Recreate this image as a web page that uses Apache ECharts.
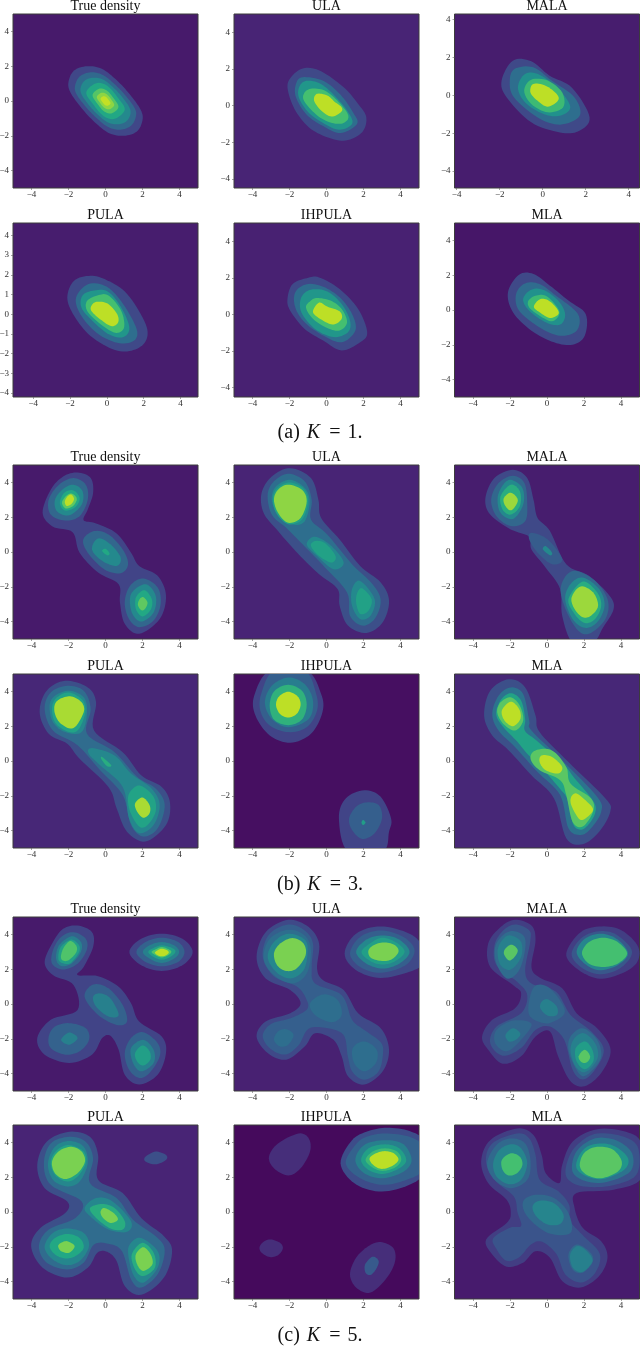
<!DOCTYPE html>
<html><head><meta charset="utf-8">
<style>html,body{margin:0;padding:0;background:#fff}#c{width:640px;height:1347px}</style>
<script src="https://cdn.jsdelivr.net/npm/echarts@6/dist/echarts.min.js"></script>
</head><body><div id="c"></div>
<script>
// Panel titles, captions, tick labels
const TITLES = ['True density','ULA','MALA','PULA','IHPULA','MLA'];
const CAPTIONS = [['(a) ','K','1.'],['(b) ','K','3.'],['(c) ','K','5.']];
const TICKS_EVEN = [-4,-2,0,2,4];
const TICKS_UNIT = [-4,-3,-2,-1,0,1,2,3,4];
// Axis ranges [xmin,xmax,ymin,ymax] per panel
const AXIS_RANGES = [
 [-5,5,-5,5],[-5,5,-4.5,5],[-4.1,4.5,-4.9,4.3],[-5.1,4.95,-4.2,4.63],[-5,5,-4.53,5],[-5,5,-5,5],
 [-5,5,-5,5],[-5,5,-5,5],[-5,5,-5,5],[-5,5,-5,5],[-5,5,-5,5],[-5,5,-5,5],
 [-5,5,-5,5],[-5,5,-5,5],[-5,5,-5,5],[-5,5,-5,5],[-5,5,-5,5],[-5,5,-5,5]];
// Lowest band of each panel, on the 0..1 colour scale
const BG_LEVELS = [.07,.1,.08,.08,.09,.06, .07,.1,.08,.11,.04,.11, .07,.09,.08,.1,.025,.075];

// Filled contour bands: [colour level, outline x,y pairs in data units]
const K1_TRUE = [
 [.21,[-1,2,-.2,1.85,.6,1.2,1.3,.4,1.9,-.5,2,-1.1,1.7,-1.75,1,-2,.2,-1.85,-.6,-1.2,-1.3,-.4,-1.9,.5,-2,1.1,-1.7,1.75]],
 [.34,[-.8,1.65,-.15,1.5,.5,.96,1.08,.32,1.58,-.42,1.64,-.9,1.38,-1.42,.8,-1.65,.15,-1.5,-.5,-.96,-1.08,-.32,-1.58,.42,-1.64,.9,-1.38,1.42]],
 [.47,[-.66,1.34,-.14,1.24,.4,.8,.87,.27,1.27,-.33,1.35,-.73,1.13,-1.17,.66,-1.34,.14,-1.24,-.4,-.8,-.87,-.27,-1.27,.33,-1.35,.73,-1.13,1.17]],
 [.6,[-.5,1.02,.1,.87,.66,.2,1.04,-.5,.5,-1.02,-.1,-.87,-.66,-.2,-1.04,.5]],
 [.73,[-.35,.7,.07,.6,.45,.14,.7,-.35,.35,-.7,-.07,-.6,-.45,-.14,-.7,.35]],
 [.83,[-.23,.47,.05,.4,.3,.1,.47,-.23,.23,-.47,-.05,-.4,-.3,-.1,-.47,.23]],
 [.91,[-.13,.27,.03,.23,.17,.06,.27,-.13,.13,-.27,-.03,-.23,-.17,-.06,-.27,.13]]];
const K1_ULA = [
 [.22,[-1.18,2.05,-.29,1.87,.93,1,1.71,.09,2.15,-.64,1.93,-1.45,1.04,-1.91,.04,-1.73,-.96,-1.18,-1.73,-.18,-2.11,1,-1.84,1.64]],
 [.36,[-1.29,1.55,-.18,1.35,.75,.6,1.42,-.35,1.65,-1,.75,-1.5,-.18,-1.12,-1.07,-.5,-1.65,.45,-1.65,1.18]],
 [.52,[-1.1,1.35,-.3,1.18,.55,.42,1.2,-.4,1.38,-1,.7,-1.32,-.1,-1,-.95,-.4,-1.48,.4,-1.48,1]],
 [.7,[-.85,.92,-.1,.82,.65,.2,1.18,-.55,.92,-.95,.3,-.95,-.45,-.58,-1.18,.2,-1.22,.65]],
 [.9,[-.52,.64,.04,.55,.45,.2,.82,-.1,.78,-.36,.27,-.6,-.29,-.27,-.67,.27]]];
const K1_MALA = [
 [.22,[-1.39,1.83,-.53,1.8,.32,1.04,1.37,.39,2.18,-1.16,1.66,-1.9,.8,-1.96,-.53,-1.43,-1.68,-.1,-1.91,.78]],
 [.36,[-1.3,1.4,-.44,1.48,.42,.78,1.47,-.1,1.72,-1.08,.8,-1.55,-.25,-1.16,-1.34,-.1,-1.53,.78]],
 [.5,[-.82,1.13,-.15,1.09,.8,.25,1.28,-.63,.8,-1.08,.04,-.99,-.82,-.37,-1.15,.42]],
 [.68,[-.53,.83,.23,.78,.9,.16,.95,-.63,.23,-.9,-.53,-.46,-.86,.25]],
 [.9,[-.44,.6,.13,.51,.65,.07,.71,-.28,.23,-.6,-.25,-.28,-.57,.16]]];
const K1_PULA = [
 [.22,[-.89,1.95,0,1.73,1.11,1.02,2.11,-.51,2.11,-1.36,1.44,-1.82,.44,-1.82,-.89,-1.1,-1.78,-.08,-2.15,.85,-1.78,1.7]],
 [.36,[-1,1.53,0,1.39,.89,.51,1.62,-.77,1.44,-1.36,.56,-1.45,-.56,-.94,-1.44,0,-1.67,.85]],
 [.52,[-.78,1.19,.04,1.16,.78,.34,1.22,-.68,.89,-1.16,.11,-1.02,-.78,-.34,-1.38,.34,-1.33,.94]],
 [.7,[-.44,.97,.11,.94,.78,.17,.93,-.68,.44,-.94,-.44,-.43,-1.07,.17,-1.07,.68]],
 [.9,[-.56,.63,.04,.54,.56,0,.6,-.43,.22,-.6,-.44,-.2,-.84,.17,-.84,.43]]];
const K1_IHPULA = [
 [.22,[-1.07,1.98,-.4,2.02,.71,1.38,1.71,.29,2.2,-.98,1.82,-1.53,.82,-1.98,-.18,-1.44,-1.18,-.8,-1.96,.2,-2.11,.84,-1.84,1.65]],
 [.36,[-1.07,1.65,-.18,1.51,.71,.93,1.38,.02,1.56,-.89,.82,-1.53,-.18,-1.16,-1.18,-.44,-1.69,.38,-1.69,1.2]],
 [.52,[-.84,1.35,.04,1.25,.82,.56,1.27,-.35,1.16,-.98,.38,-1.25,-.62,-.8,-1.36,.11,-1.36,.93]],
 [.7,[-.51,.89,.22,.75,.82,.29,1.11,-.44,.71,-.89,.04,-.75,-.73,-.25,-1.11,.38,-.84,.75]],
 [.9,[-.4,.64,.04,.42,.71,.16,.82,-.25,.38,-.56,-.18,-.35,-.73,.11]]];
const K1_MLA = [
 [.22,[-1.51,2.03,-.73,2.07,.16,1.4,1.16,.54,2.09,-.23,2.04,-1.48,1.38,-1.99,.38,-1.86,-.84,-1.19,-1.84,-.13,-2.11,1.02]],
 [.35,[-1.18,1.53,-.4,1.49,.49,.82,1.67,-.23,1.6,-1.19,.71,-1.48,-.4,-1,-1.51,-.04,-1.67,.92]],
 [.5,[-.84,1.17,-.18,1.15,.6,.54,.98,-.23,.71,-.84,-.07,-.71,-.96,-.04,-1.29,.63]],
 [.68,[-.62,.82,-.07,.82,.49,.25,.67,-.23,.27,-.65,-.4,-.33,-.96,.15,-1,.54]],
 [.9,[-.4,.61,.04,.57,.49,.15,.62,-.23,.16,-.46,-.4,-.13,-.71,.19]]];

const K3_TRUE = [
 [.2,[-1.51,4.57,-.8,4.25,-.67,3.39,-.96,2.44,-1.18,1.83,-.51,1.64,.6,1.07,1.38,-.04,1.82,-.8,2.82,-1.37,3.27,-2.51,2.93,-3.85,1.82,-4.7,1.04,-4.13,.78,-2.9,.71,-1.85,-.4,-1.18,-1.4,-.04,-1.78,1.14,-2.84,1.45,-3.4,2.25,-2.96,3.58,-2.29,4.34]],
 [.33,[-1.73,4.25,-1.07,3.87,-.96,3.01,-1.4,2.06,-2.18,1.81,-2.96,2.15,-3.07,3.01,-2.51,3.87]],
 [.33,[-.62,1.2,.16,1.01,.93,.15,1.22,-.7,.82,-1.22,-.07,-.99,-.96,-.04,-1.2,.72]],
 [.33,[2.04,-1.52,2.82,-2.04,2.98,-2.99,2.6,-3.94,1.82,-4.32,1.27,-3.85,1.04,-2.9,1.33,-1.94]],
 [.47,[-1.73,3.87,-1.24,3.49,-1.29,2.72,-1.96,2.11,-2.62,2.34,-2.73,3.01,-2.29,3.62]],
 [.47,[-.4,.78,.27,.44,.82,-.32,.6,-.8,-.18,-.51,-.73,.15]],
 [.47,[2.16,-1.85,2.71,-2.51,2.6,-3.47,1.93,-4,1.42,-3.47,1.38,-2.42]],
 [.6,[-1.73,3.54,-1.4,3.1,-1.62,2.59,-2.18,2.38,-2.47,2.82,-2.22,3.41]],
 [.6,[0,.19,.22,-.08,.09,-.19,-.18,.06]],
 [.6,[2.1,-2.2,2.5,-2.7,2.45,-3.3,2,-3.7,1.65,-3.3,1.65,-2.6]],
 [.75,[-1.8,3.35,-1.55,3.05,-1.75,2.65,-2.15,2.5,-2.35,2.85,-2.1,3.25]],
 [.75,[2.05,-2.6,2.27,-2.9,2.15,-3.25,1.95,-3.35,1.75,-3.05,1.85,-2.7]],
 [.9,[-1.85,3.3,-1.7,3.05,-1.85,2.75,-2.1,2.65,-2.2,2.9,-2.05,3.2]]];
const K3_ULA = [
 [.24,[-1.96,4.82,-.84,4.25,-.44,3.01,-.29,1.96,.71,.72,1.82,-.8,2.93,-1.75,3.38,-2.8,3.04,-4.04,2.16,-4.65,1.16,-4.23,.71,-3.09,.6,-2.13,-.4,-1.28,-1.51,-.13,-2.62,1.2,-3.4,2.25,-3.51,3.39,-2.96,4.34]],
 [.36,[-2.07,4.5,-1.18,4.06,-.8,3.01,-.84,1.87,.04,1.01,1.38,-.7,2.49,-1.85,2.93,-2.8,2.6,-3.85,1.93,-4.23,1.27,-3.66,1.11,-2.33,-.07,-.9,-1.29,.44,-2.18,1.39,-2.96,2.15,-3.18,3.3,-2.84,4.06]],
 [.47,[-1.96,4.15,-1.18,3.68,-.91,2.91,-1.18,1.77,-1.84,1.58,-2.62,2.15,-2.96,3.01,-2.73,3.77]],
 [.47,[-.62,.88,.27,.34,.93,-.61,.38,-.99,-.51,-.23,-1.07,.44]],
 [.47,[1.82,-1.66,2.6,-2.71,2.38,-3.66,1.82,-3.85,1.38,-3.09,1.38,-2.13]],
 [.57,[-2,4,-1.25,3.65,-1,2.91,-1.32,1.87,-2.07,1.6,-2.7,2.2,-2.9,3.01,-2.68,3.65]],
 [.57,[-.62,.63,-.07,.5,.49,-.23,.27,-.61,-.4,-.23,-.84,.34]],
 [.57,[1.93,-2.09,2.44,-2.71,2.27,-3.37,1.82,-3.56,1.6,-2.9,1.67,-2.33]],
 [.83,[-2.07,3.87,-1.33,3.58,-1.07,2.91,-1.4,1.96,-2.07,1.68,-2.62,2.25,-2.84,3.01,-2.62,3.58]]];
const K3_MALA = [
 [.22,[-1.84,4.72,-1.07,4.25,-.73,3.01,-.51,1.96,.16,1.2,1.04,-.7,2.27,-1.37,3.38,-2.51,3.6,-3.28,3.04,-4.32,2.49,-5.2,1.38,-5.2,.82,-3.66,.71,-2.13,-.07,-.9,-.84,.15,-.96,.88,-1.96,1.3,-3.07,2.15,-3.33,3.1,-2.84,4.25]],
 [.33,[-1.84,4.38,-1.22,3.96,-1.07,2.82,-1.18,1.77,-1.96,1.49,-2.73,2.06,-3.02,3.01,-2.62,3.96]],
 [.29,[-.84,1.1,.04,.72,.82,-.42,.27,-.7,-.51,-.04,-.96,.72]],
 [.33,[1.38,-1.09,2.49,-1.56,3.27,-2.7,3.16,-3.85,2.27,-4.7,1.6,-4.42,.93,-3.09,.76,-1.94]],
 [.47,[-1.96,4.15,-1.33,3.68,-1.29,2.72,-1.84,1.9,-2.51,2.25,-2.67,3.1,-2.4,3.82]],
 [.47,[-.07,.34,.27,-.04,.16,-.19,-.22,.15]],
 [.47,[1.93,-1.47,2.82,-2.13,3.11,-3.09,2.71,-4.04,2.04,-4.36,1.38,-3.85,.98,-2.7,1.27,-1.85]],
 [.62,[-1.96,3.87,-1.47,3.49,-1.47,2.63,-1.96,2.15,-2.4,2.44,-2.51,3.2]],
 [.62,[1.93,-1.7,2.71,-2.32,2.93,-3.09,2.6,-3.85,2.04,-4.08,1.49,-3.56,1.16,-2.7]],
 [.85,[-1.96,3.41,-1.58,3.01,-1.78,2.53,-2.02,2.4,-2.29,2.72,-2.33,3.1]],
 [.85,[1.82,-1.98,2.49,-2.32,2.76,-3.09,2.38,-3.66,1.93,-3.75,1.49,-3.28,1.33,-2.61]]];
const K3_PULA = [
 [.24,[-2.18,4.61,-.96,4.23,-.51,3.37,-.62,1.75,.93,.51,1.93,-.82,3.04,-1.49,3.49,-2.44,3.27,-3.68,2.16,-4.63,1.16,-4.06,.6,-2.72,.16,-1.49,-1.4,.13,-2.07,.99,-3.07,1.56,-3.56,2.8,-3.18,4.04]],
 [.35,[-2.07,4.32,-1.18,4.04,-.8,2.99,-1,1.56,.49,.51,1.71,-.91,2.71,-1.58,3.2,-2.53,2.82,-3.87,2.04,-4.34,1.38,-3.68,.93,-1.96,-.29,-.53,-1.51,.9,-2.84,1.75,-3.29,2.99,-2.96,3.94]],
 [.46,[-1.96,4.04,-1.18,3.66,-1,2.8,-1.29,1.66,-2.18,1.66,-2.84,2.23,-3.02,3.18,-2.73,3.75]],
 [.46,[-.73,.74,.49,.32,1.38,-.72,2.49,-1.58,2.93,-2.53,2.6,-3.68,1.82,-4.15,1.27,-3.3,.93,-1.49,-.29,-.25,-.91,.42]],
 [.58,[-1.96,3.94,-1.22,3.47,-1.11,2.7,-1.51,1.75,-2.07,1.7,-2.73,2.23,-2.89,3.09,-2.62,3.66]],
 [.62,[-.18,.23,.31,-.25,.09,-.3,-.22,.1]],
 [.58,[1.93,-1.43,2.6,-2.06,2.71,-2.91,2.27,-3.68,1.82,-3.77,1.33,-2.91,1.22,-2.06,1.49,-1.58]],
 [.87,[-1.84,3.71,-1.29,3.37,-1.18,2.8,-1.73,1.89,-2.4,2.13,-2.73,2.7,-2.73,3.28,-2.4,3.6]],
 [.87,[2,-2.1,2.38,-2.53,2.38,-3.01,2.04,-3.26,1.71,-2.91,1.6,-2.44]]];
const K3_IHPULA = [
 [.2,[-3.07,5.2,-1.07,5.2,-.29,3.85,-.22,2.8,-.84,1.56,-1.96,1.05,-3.07,1.47,-3.84,2.61,-3.91,3.75]],
 [.2,[2.04,-1.68,2.93,-2.06,3.49,-3.3,3.38,-4.06,3.04,-5.2,1.16,-5.2,.67,-3.3,1.04,-2.15]],
 [.3,[-2.84,5.2,-1.18,5.2,-.58,3.94,-.51,2.9,-1.07,1.94,-2.07,1.66,-3.07,2.04,-3.58,2.9,-3.51,3.94]],
 [.3,[2.16,-2.38,2.82,-2.53,3,-3.3,2.6,-4.15,1.93,-4.48,1.38,-3.96,1.22,-3.3,1.6,-2.63]],
 [.42,[-2.07,4.8,-1.18,4.42,-.73,3.47,-.96,2.42,-2.07,1.94,-2.96,2.42,-3.33,3.37,-2.96,4.32]],
 [.55,[1.98,-3.39,2.11,-3.54,1.98,-3.68,1.89,-3.54]],
 [.64,[-2.07,4.38,-1.33,4.04,-1.07,3.24,-1.33,2.38,-2.07,2.06,-2.84,2.38,-3.07,3.24,-2.8,4.04]],
 [.9,[-2.07,3.98,-1.56,3.71,-1.4,3.22,-1.62,2.7,-2.07,2.5,-2.51,2.7,-2.73,3.22,-2.56,3.71]]];
const K3_MLA = [
 [.24,[-2.07,4.7,-1.18,4.23,-.62,2.61,-.4,1.66,1.16,-.06,3.16,-2.15,3.42,-2.91,2.82,-4.06,1.93,-4.78,1.04,-4.44,.38,-2.15,-.84,-.82,-2.07,.61,-2.96,1.47,-3.4,2.61,-3.07,4.04]],
 [.38,[-1.96,4.23,-1.29,3.85,-.96,2.32,-.84,1.75,.82,.04,2.71,-2.06,2.93,-2.91,2.38,-3.87,1.82,-4.25,1.16,-3.87,.71,-1.96,-.51,-.63,-1.73,.8,-2.62,1.75,-2.96,2.7,-2.62,3.75]],
 [.58,[-1.96,3.9,-1.4,3.47,-1.18,2.4,-1.2,1.75,-.6,1.2,.82,-.1,1.5,-1,2.5,-2.3,2.6,-3,2.2,-3.7,1.8,-3.95,1.4,-3.6,1.1,-2.2,.7,-1.6,-.2,-.5,-1.07,.42,-1.6,1.1,-2.4,2,-2.75,2.7,-2.5,3.5]],
 [.74,[-1.96,3.66,-1.47,3.18,-1.29,2.32,-1.73,1.75,-2.36,2.13,-2.69,2.8,-2.51,3.37]],
 [.74,[-.62,.61,.27,.61,1.04,-.34,1.27,-1.3,2.38,-2.15,2.49,-2.91,1.93,-3.77,1.38,-3.49,1.04,-1.96,.71,-1.1,-.4,-.53,-.89,.13]],
 [.9,[-1.96,3.41,-1.51,2.99,-1.44,2.42,-1.84,2,-2.29,2.32,-2.44,2.9]],
 [.9,[-.29,.32,.27,.23,.82,-.34,.6,-.72,-.07,-.53,-.4,-.06]],
 [.9,[1.6,-1.87,2.16,-2.34,2.49,-2.82,2.04,-3.33,1.71,-3.3,1.31,-2.53,1.31,-2.06]]];

const K5_TRUE = [
 [.2,[-1.51,4.51,-.73,4.13,-.67,3.28,-1.18,2.13,-1.51,1.66,-.4,1.6,.71,.99,1.38,.04,1.82,-1.01,3.04,-1.87,3.27,-2.82,2.82,-4.06,1.82,-4.63,1.04,-4.06,.71,-2.63,.27,-1.83,-.18,-1.96,-.73,-2.91,-1.96,-3.39,-3.29,-2.91,-3.69,-1.96,-2.96,-.91,-1.51,-.34,-1.73,1.09,-2.84,1.66,-3.29,2.42,-2.84,3.56,-2.29,4.32]],
 [.2,[3.04,4.04,4.16,3.75,4.71,2.99,4.16,2.23,3.04,1.9,1.93,2.23,1.29,2.99,1.93,3.75]],
 [.31,[-1.73,4.13,-1.07,3.75,-1.02,3.09,-1.51,2.32,-2.29,1.98,-2.89,2.32,-2.84,3.09,-2.4,3.85]],
 [.31,[-.67,1.12,.16,.9,.93,-.06,1.16,-1.01,.6,-1.2,-.4,-.63,-1.13,.42]],
 [.31,[-1.96,-1.1,-1.07,-1.39,-.89,-2.06,-1.4,-2.72,-2.18,-2.91,-2.96,-2.53,-3.07,-1.87,-2.73,-1.3]],
 [.31,[2.04,-1.62,2.82,-2.25,2.93,-3.01,2.38,-3.96,1.82,-4.25,1.27,-3.77,1.04,-2.82,1.38,-1.96]],
 [.31,[3.04,3.81,3.93,3.56,4.27,2.99,3.93,2.42,3.04,2.17,2.16,2.42,1.67,2.99,2.16,3.56]],
 [.43,[-1.84,3.89,-1.33,3.56,-1.33,2.99,-1.84,2.32,-2.4,2.19,-2.67,2.61,-2.51,3.37]],
 [.43,[-.29,.61,.27,.32,.71,-.63,.16,-.72,-.51,-.15,-.67,.42]],
 [.43,[-1.96,-1.64,-1.51,-1.96,-1.96,-2.34,-2.4,-2.06]],
 [.43,[2.04,-2.06,2.6,-2.63,2.6,-3.39,1.93,-3.87,1.49,-3.39,1.38,-2.53]],
 [.43,[3.04,3.56,3.71,3.37,3.98,2.99,3.71,2.61,3.04,2.36,2.38,2.61,2.02,2.99,2.38,3.37]],
 [.56,[2,-2.38,2.38,-2.72,2.42,-3.2,2.04,-3.54,1.71,-3.3,1.6,-2.82]],
 [.56,[-1.85,3.7,-1.42,3.35,-1.47,2.9,-1.95,2.32,-2.45,2.42,-2.55,2.75,-2.4,3.3]],
 [.56,[3.04,3.37,3.6,3.22,3.78,2.99,3.49,2.7,3.04,2.55,2.6,2.7,2.31,2.99,2.6,3.22]],
 [.72,[-1.91,3.62,-1.56,3.31,-1.62,2.9,-2.07,2.48,-2.4,2.61,-2.29,3.18]],
 [.72,[3.04,3.28,3.42,3.14,3.56,2.99,3.38,2.8,3.04,2.67,2.71,2.8,2.49,2.99,2.71,3.14]],
 [.9,[3.04,3.18,3.33,3.09,3.42,2.95,3.27,2.8,3.04,2.74,2.82,2.8,2.67,2.95,2.82,3.09]]];
const K5_ULA = [
 [.22,[-2.07,4.84,-.96,4.42,-.4,3.47,-.51,2.04,-.18,1.37,.93,.8,1.71,-.53,2.93,-1.39,3.38,-2.63,3.04,-3.87,2.04,-4.63,1.16,-4.15,.82,-3.01,.38,-2.06,-.62,-1.68,-1.18,-2.44,-2.18,-3.2,-3.18,-2.82,-3.78,-1.87,-3.29,-1.01,-1.96,-.53,-1.4,.04,-1.96,.8,-3.29,1.47,-3.78,2.7,-3.29,4.13]],
 [.22,[2.93,4.46,4.49,4.04,5.2,3.28,5.2,2.32,4.49,1.85,2.93,1.5,1.6,1.94,.98,2.9,1.6,4.04]],
 [.3,[-2.07,4.57,-1.18,4.23,-.73,3.47,-.8,2.13,-.62,1.18,.82,.51,1.38,-.91,2.04,-1.49,2.93,-2.2,3.05,-2.9,2.8,-3.9,2.04,-4.35,1.4,-3.9,1.15,-3,.9,-1.75,-.2,-1.35,-1,-1.45,-1.5,-2.35,-2.2,-2.9,-3,-2.6,-3.45,-1.85,-3,-1.15,-1.9,-.8,-1.05,-.3,-1.1,.3,-1.6,1,-2.85,1.6,-3.45,2.75,-3.1,4]],
 [.3,[2.93,4.23,4.16,3.85,4.76,3.09,4.27,2.23,2.93,1.79,1.82,2.13,1.27,2.9,1.82,3.85]],
 [.36,[-2.07,4.27,-1.18,3.94,-.84,3.09,-1.07,1.75,-1.84,1.18,-2.84,1.66,-3.4,2.61,-3.07,3.75]],
 [.36,[-.18,.55,.6,.23,.82,-.63,.27,-1.05,-.62,-.63,-.89,.04]],
 [.36,[-2.18,-1.45,-1.78,-1.77,-2.07,-2.34,-2.51,-2.44,-2.84,-2.06,-2.62,-1.58]],
 [.36,[2.04,-2.15,2.71,-2.63,2.67,-3.39,2.04,-3.87,1.49,-3.39,1.42,-2.53]],
 [.46,[3.04,3.94,3.93,3.7,4.49,2.99,3.93,2.32,3.04,2.04,2.16,2.32,1.6,2.99,2.16,3.7]],
 [.46,[-2.07,4.04,-1.18,3.7,-1.02,2.99,-1.24,1.94,-1.96,1.47,-2.73,1.85,-3.18,2.7,-2.84,3.56]],
 [.56,[3.04,3.81,3.82,3.5,4.22,2.99,3.71,2.46,3.04,2.27,2.38,2.46,1.89,2.99,2.38,3.5]],
 [.8,[-1.84,3.79,-1.24,3.47,-1.13,2.8,-1.62,2.04,-2.18,1.9,-2.67,2.23,-2.84,2.9,-2.51,3.47]],
 [.8,[3.16,3.54,3.71,3.37,3.89,2.99,3.49,2.55,2.93,2.48,2.38,2.67,2.27,3.09,2.6,3.41]]];
const K5_MALA = [
 [.18,[-1.73,4.84,-.84,4.51,-.62,3.66,-.84,2.13,-.4,1.52,.82,.9,1.6,-.53,2.71,-1.39,3.44,-2.63,2.93,-3.96,2.04,-4.72,1.27,-4.44,.6,-3.01,.16,-1.58,-.62,-1.87,-1.4,-3.01,-2.4,-3.43,-3.18,-2.63,-3.51,-1.87,-2.96,-.91,-1.73,-.25,-1.4,.61,-1.84,1.09,-3.07,2.13,-3.18,3.47,-2.51,4.42]],
 [.18,[2.93,4.46,4.04,4.23,4.93,3.28,4.82,2.32,3.82,1.66,2.71,1.47,1.6,2.04,1.04,2.9,1.82,4.13]],
 [.27,[-1.73,4.57,-.96,4.23,-.91,3.56,-1.18,1.94,-.84,1.18,.49,.7,1.27,-.63,2.4,-1.58,3.07,-2.63,2.6,-3.77,1.93,-4.34,1.38,-3.77,.93,-2.06,.16,-1.3,-.62,-1.49,-1.4,-2.53,-2.4,-2.97,-3.07,-2.25,-2.73,-1.3,-1.4,-.53,-1.07,.51,-1.62,1.28,-2.73,2.23,-2.84,3.37,-2.4,4.19]],
 [.27,[2.93,4.19,3.82,3.94,4.6,2.99,3.93,2.04,2.82,1.71,1.82,2.13,1.33,2.9,1.93,3.85]],
 [.35,[-1.84,4.19,-1.22,3.85,-1.22,2.9,-1.56,1.85,-2.18,1.47,-2.73,2.32,-2.8,3.28,-2.4,3.94]],
 [.33,[-.62,1.05,.16,.9,.97,-.4,.23,-1.07,-.44,-1.02,-.96,-.63,-.96,.23]],
 [.33,[-1.84,-.95,-.84,-1.14,-1.4,-2.06,-2.18,-2.72,-2.8,-2.25,-2.73,-1.49]],
 [.35,[1.93,-1.39,2.71,-2.06,2.93,-3.01,2.49,-3.77,1.93,-4.15,1.49,-3.58,1.16,-2.63,1.27,-1.87]],
 [.45,[2.93,4.04,3.82,3.7,4.38,2.9,3.82,2.23,2.82,1.94,2.04,2.32,1.6,2.99,2.04,3.75]],
 [.43,[-1.96,3.94,-1.4,3.56,-1.4,2.7,-1.96,1.98,-2.51,2.23,-2.67,3.09,-2.36,3.75]],
 [.43,[.04,.27,.53,-.15,.53,-.63,.04,-.67,-.36,-.25,-.29,.13]],
 [.43,[-1.84,-1.39,-1.44,-1.71,-1.69,-2.06,-2.07,-2.15,-2.24,-1.77]],
 [.43,[2,-1.68,2.6,-2.25,2.76,-3.01,2.38,-3.68,1.93,-3.92,1.49,-3.49,1.27,-2.63,1.49,-1.96]],
 [.55,[2.05,-2.15,2.45,-2.63,2.5,-3.3,2.04,-3.75,1.6,-3.3,1.55,-2.55]],
 [.7,[3.04,3.81,3.82,3.56,4.33,2.9,3.82,2.32,3.04,2.13,2.27,2.32,1.89,2.93,2.27,3.56]],
 [.74,[-1.89,3.41,-1.58,3.09,-1.78,2.67,-2.07,2.51,-2.33,2.9,-2.22,3.22]],
 [.74,[2.04,-2.63,2.33,-3.01,2.16,-3.35,1.87,-3.35,1.71,-3.01]]];
const K5_PULA = [
 [.24,[-1.96,4.61,-.84,4.32,-.4,3.28,-.4,1.85,.93,1.09,1.93,-.34,3.16,-1.39,3.6,-2.25,3.16,-3.77,1.93,-4.76,1.04,-4.25,.6,-2.82,.09,-2.29,-.44,-2.34,-.96,-3.2,-2.07,-3.77,-3.4,-3.2,-4.02,-1.96,-3.51,-.91,-2.18,-.06,-2.07,.61,-3.29,1.37,-3.69,2.7,-3.18,4.04]],
 [.24,[2.71,3.47,3.27,3.28,3.27,2.99,2.71,2.74,2.16,2.9,2.16,3.18]],
 [.35,[-1.96,4.32,-1.07,4.04,-.67,3.09,-.84,1.66,.6,.8,1.49,-.44,2.82,-1.49,3.2,-2.25,2.82,-3.58,1.93,-4.34,1.38,-3.87,.89,-2.25,.16,-1.83,-.62,-1.87,-1.18,-2.91,-2.07,-3.3,-3.18,-2.91,-3.6,-1.96,-3.07,-1.01,-1.62,-.34,-1.29,.61,-2.96,1.56,-3.33,2.8,-2.96,3.94]],
 [.46,[-1.96,4.08,-1.18,3.75,-.96,2.8,-1.4,1.75,-2.07,1.47,-2.84,1.85,-3.11,2.8,-2.73,3.75]],
 [.46,[-.51,.8,.38,.61,1.38,-.53,1.16,-1.14,.16,-1.01,-.73,-.34,-1.13,.23]],
 [.46,[-2.07,-.95,-1.18,-1.2,-.89,-1.96,-1.4,-2.82,-2.18,-3.05,-2.96,-2.63,-3.29,-1.96,-2.84,-1.2]],
 [.46,[1.93,-1.49,2.82,-2.25,2.82,-3.2,2.04,-4.06,1.49,-3.58,1.22,-2.34,1.38,-1.77]],
 [.58,[-1.96,3.85,-1.18,3.47,-1.07,2.8,-1.51,2.04,-2.07,1.75,-2.73,2.13,-2.96,2.9,-2.62,3.56]],
 [.62,[-.18,.46,.49,.23,1.04,-.53,.93,-1.01,.27,-.95,-.51,-.34,-.84,.23]],
 [.6,[-2.07,-1.26,-1.4,-1.49,-1.18,-2.06,-1.62,-2.53,-2.18,-2.67,-2.73,-2.44,-3.02,-1.96,-2.73,-1.49]],
 [.62,[2,-1.77,2.6,-2.34,2.67,-3.2,2.04,-3.68,1.6,-3.3,1.42,-2.44]],
 [.8,[-1.84,3.75,-1.29,3.47,-1.11,2.9,-1.51,2.23,-2.18,1.89,-2.73,2.23,-2.89,2.9,-2.51,3.5]],
 [.8,[-.07,.23,.44,-.06,.67,-.44,.27,-.63,-.13,-.34,-.27,0]],
 [.8,[-2.07,-1.68,-1.67,-1.96,-1.96,-2.34,-2.4,-2.25,-2.56,-1.96,-2.4,-1.77]],
 [.8,[2.04,-2.02,2.44,-2.44,2.53,-3.01,2.04,-3.39,1.71,-3.01,1.64,-2.44]]];
const K5_IHPULA = [
 [.13,[-1.51,4.51,-.96,4.23,-.89,3.47,-1.4,2.51,-2.07,2.1,-2.84,2.51,-3.11,3.18,-2.62,3.94]],
 [.13,[-3.02,-1.58,-2.51,-1.77,-2.36,-2.1,-2.62,-2.48,-3.07,-2.59,-3.51,-2.34,-3.62,-2.02,-3.4,-1.71]],
 [.13,[2.93,-1.73,3.6,-2.06,3.71,-2.82,3.27,-3.77,2.38,-4.63,1.6,-4.34,1.27,-3.58,1.6,-2.63,2.27,-1.96]],
 [.28,[2.49,-2.57,2.82,-2.82,2.67,-3.3,2.38,-3.62,2.11,-3.49,2.09,-3.01]],
 [.23,[3.27,4.84,4.49,4.65,5.25,4.04,5.25,2.23,4.27,1.47,2.82,1.18,1.49,1.66,.76,2.8,1.38,4.13,2.27,4.65]],
 [.31,[3.16,4.51,4.49,4.32,5.2,3.75,5.2,2.4,4.27,1.83,3.04,1.56,1.82,1.94,1.04,2.8,1.56,3.85,2.16,4.32]],
 [.43,[3.16,4.13,4.16,3.89,4.6,2.99,4.16,2.32,3.04,1.94,2.04,2.23,1.56,2.99,2.04,3.85]],
 [.56,[3.16,3.89,3.93,3.66,4.31,2.99,3.93,2.51,3.04,2.19,2.27,2.42,1.87,2.99,2.27,3.66]],
 [.68,[3.16,3.66,3.82,3.47,4.04,2.99,3.71,2.56,3.04,2.36,2.49,2.56,2.11,2.99,2.49,3.47]],
 [.9,[3.16,3.5,3.64,3.37,3.89,2.99,3.49,2.61,2.93,2.48,2.49,2.74,2.33,3.09,2.67,3.37]]];
const K5_MLA = [
 [.18,[-1.62,4.8,-.73,4.42,-.29,3.28,-.07,2.23,.67,1.66,.82,2.7,1.38,4.04,2.71,4.76,4.27,4.61,5.1,3.94,5.1,1.94,3.6,1.28,1.6,1.09,1.49,.23,1.93,-.91,2.93,-1.68,3.27,-2.63,2.82,-3.68,1.82,-4.34,.82,-3.96,.16,-2.63,-.62,-2.25,-1.29,-2.91,-2.18,-3.14,-2.96,-2.44,-3.29,-1.58,-2.18,-.63,-1.96,-.06,-2.18,.7,-3.18,1.66,-3.56,2.9,-3.07,4.13]],
 [.26,[-1.62,4.51,-.96,4.23,-.62,3.28,-.4,1.85,.6,1.2,1.2,.4,1.25,-.5,1.9,-1.3,2.85,-2.4,2.6,-3.5,1.85,-4.05,1,-3.6,.5,-2.4,-.3,-1.7,-.9,-1.9,-1.5,-2.6,-2.2,-2.8,-2.75,-2.1,-2.9,-1.5,-2,-.9,-1.4,-.8,-1.6,0,-1.8,.9,-2.8,1.8,-3.3,2.9,-2.95,3.95]],
 [.26,[2.71,4.51,4.16,4.32,4.93,3.66,4.82,2.13,3.38,1.5,1.82,1.5,1.04,2.04,1.16,3.09,1.71,3.94]],
 [.34,[-1.96,4.23,-1.18,3.94,-.89,2.9,-1.07,1.85,-1.96,1.37,-2.84,1.85,-3.24,2.8,-2.73,3.85]],
 [.34,[-.62,.99,.38,.8,1.16,-.06,1.27,-1.2,.04,-1.2,-1.07,-.25,-1.29,.61]],
 [.34,[1.6,-1.87,2.27,-2.25,2.49,-2.82,1.93,-3.49,1.38,-3.3,1.16,-2.44]],
 [.38,[2.82,4.27,3.82,4.08,4.6,3.37,4.49,2.32,3.16,1.71,2.04,1.79,1.38,2.32,1.49,3.28,2.04,3.94]],
 [.45,[-1.96,3.89,-1.4,3.66,-1.07,2.8,-1.4,1.85,-2.07,1.6,-2.73,2.04,-2.91,2.8,-2.58,3.56]],
 [.45,[-.4,.65,.38,.51,.89,-.15,.71,-.69,.04,-.72,-.58,-.25,-.78,.32]],
 [.43,[1.65,-1.95,2.2,-2.3,2.45,-2.85,1.9,-3.45,1.4,-3.2,1.25,-2.45]],
 [.52,[2.93,3.94,3.71,3.75,4.38,3.09,4.16,2.42,3.04,1.9,2.16,2.04,1.6,2.51,1.71,3.18,2.16,3.75]],
 [.7,[-1.96,3.37,-1.47,3.18,-1.33,2.7,-1.62,2.23,-2.07,2.1,-2.4,2.42,-2.44,2.99]],
 [.74,[2.93,3.75,3.6,3.56,4.04,2.9,3.82,2.32,2.93,1.94,2.16,2.13,1.78,2.61,1.93,3.28,2.38,3.66]]];

const PANELS = [K1_TRUE,K1_ULA,K1_MALA,K1_PULA,K1_IHPULA,K1_MLA,K3_TRUE,K3_ULA,K3_MALA,K3_PULA,K3_IHPULA,K3_MLA,K5_TRUE,K5_ULA,K5_MALA,K5_PULA,K5_IHPULA,K5_MLA];

// Layout and style
const COL_LEFT=[13,234,454.5], ROW_TOP=[14,223,465,674,917,1125], PANEL_W=185, PANEL_H=174;
const CAPTION_Y=[433,885,1336];
const SERIF='"Liberation Serif","DejaVu Serif",serif';
const VIRIDIS=[[68,1,84],[72,36,117],[65,68,135],[53,95,141],[42,120,142],[33,145,140],[34,168,132],[68,191,112],[122,209,81],[189,223,38],[253,231,37]];
function viridis(t){
  const p=Math.min(.9999,Math.max(0,t))*10,i=Math.floor(p),f=p-i,a=VIRIDIS[i],b=VIRIDIS[i+1];
  return 'rgb('+a.map((v,k)=>Math.round(v+(b[k]-v)*f)).join(',')+')';
}
// Closed Catmull-Rom path through the pixel positions the axes give
function rounded(p){
  const out=[],n=p.length,S=8;
  for(let i=0;i<n;i++){
    const a=p[(i-1+n)%n],b=p[i],c=p[(i+1)%n],d=p[(i+2)%n];
    for(let s=0;s<S;s++){
      const t=s/S,t2=t*t,t3=t2*t;
      out.push([0,1].map(k=>.5*(2*b[k]+(c[k]-a[k])*t+(2*a[k]-5*b[k]+4*c[k]-d[k])*t2+(3*b[k]-a[k]-3*c[k]+d[k])*t3)));
    }
  }
  return out;
}
const fmt=v=>String(v).replace('-','\u2212');
const grids=[],xAxes=[],yAxes=[],series=[],titles=[];
PANELS.forEach((layers,n)=>{
  const row=Math.floor(n/3),col=n%3,r=AXIS_RANGES[n];
  const left=COL_LEFT[col],top=ROW_TOP[row];
  grids.push({left,top,width:PANEL_W,height:PANEL_H,show:true,outerBoundsMode:'none',backgroundColor:viridis(BG_LEVELS[n]),borderColor:'#3c3c3c',borderWidth:1,z:0});
  const axisCommon=(ticks,margin,extra)=>Object.assign({type:'value',gridIndex:n,splitLine:{show:false},axisLine:{show:false,onZero:false},
    axisTick:{show:true,length:2,lineStyle:{color:'#666',width:.6},customValues:ticks},
    axisLabel:{fontFamily:SERIF,fontSize:9,color:'#333',margin,formatter:fmt,customValues:ticks,hideOverlap:false,showMinLabel:true,showMaxLabel:true}},extra);
  xAxes.push(axisCommon(TICKS_EVEN,2,{min:r[0],max:r[1],position:'bottom'}));
  yAxes.push(axisCommon(n===3?TICKS_UNIT:TICKS_EVEN,4,{min:r[2],max:r[3],position:'left'}));
  series.push({type:'custom',coordinateSystem:'cartesian2d',xAxisIndex:n,yAxisIndex:n,clip:true,silent:true,animation:false,
    data:layers.map(l=>[l[1][0],l[1][1],l[0]]),
    renderItem:(params,api)=>{
      const l=layers[params.dataIndex],pts=[];
      for(let i=0;i<l[1].length;i+=2)pts.push(api.coord([l[1][i],l[1][i+1]]));
      return {type:'polygon',shape:{points:rounded(pts)},style:{fill:viridis(l[0]),stroke:null}};
    }});
  titles.push({text:TITLES[n%6],left:left+PANEL_W/2,top:top-15,padding:0,textAlign:'center',
    textStyle:{fontFamily:SERIF,fontSize:14,fontWeight:'normal',color:'#111'}});
});
CAPTIONS.forEach((c,i)=>{
  titles.push({text:c[0]+'{k|'+c[1]+'} {e|=} '+c[2],left:320,top:CAPTION_Y[i]-10,padding:0,textAlign:'center',
    textStyle:{fontFamily:SERIF,fontSize:20,fontWeight:'normal',color:'#111',
      rich:{k:{fontFamily:SERIF,fontSize:20,fontStyle:'italic',color:'#111',padding:[0,2,0,2]},
            e:{fontFamily:SERIF,fontSize:20,color:'#111',padding:[0,2,0,2]}}}});
});
const chart=echarts.init(document.getElementById('c'),null,{renderer:'canvas',width:640,height:1347});
chart.setOption({animation:false,backgroundColor:'#fff',title:titles,grid:grids,xAxis:xAxes,yAxis:yAxes,series});
</script></body></html>
